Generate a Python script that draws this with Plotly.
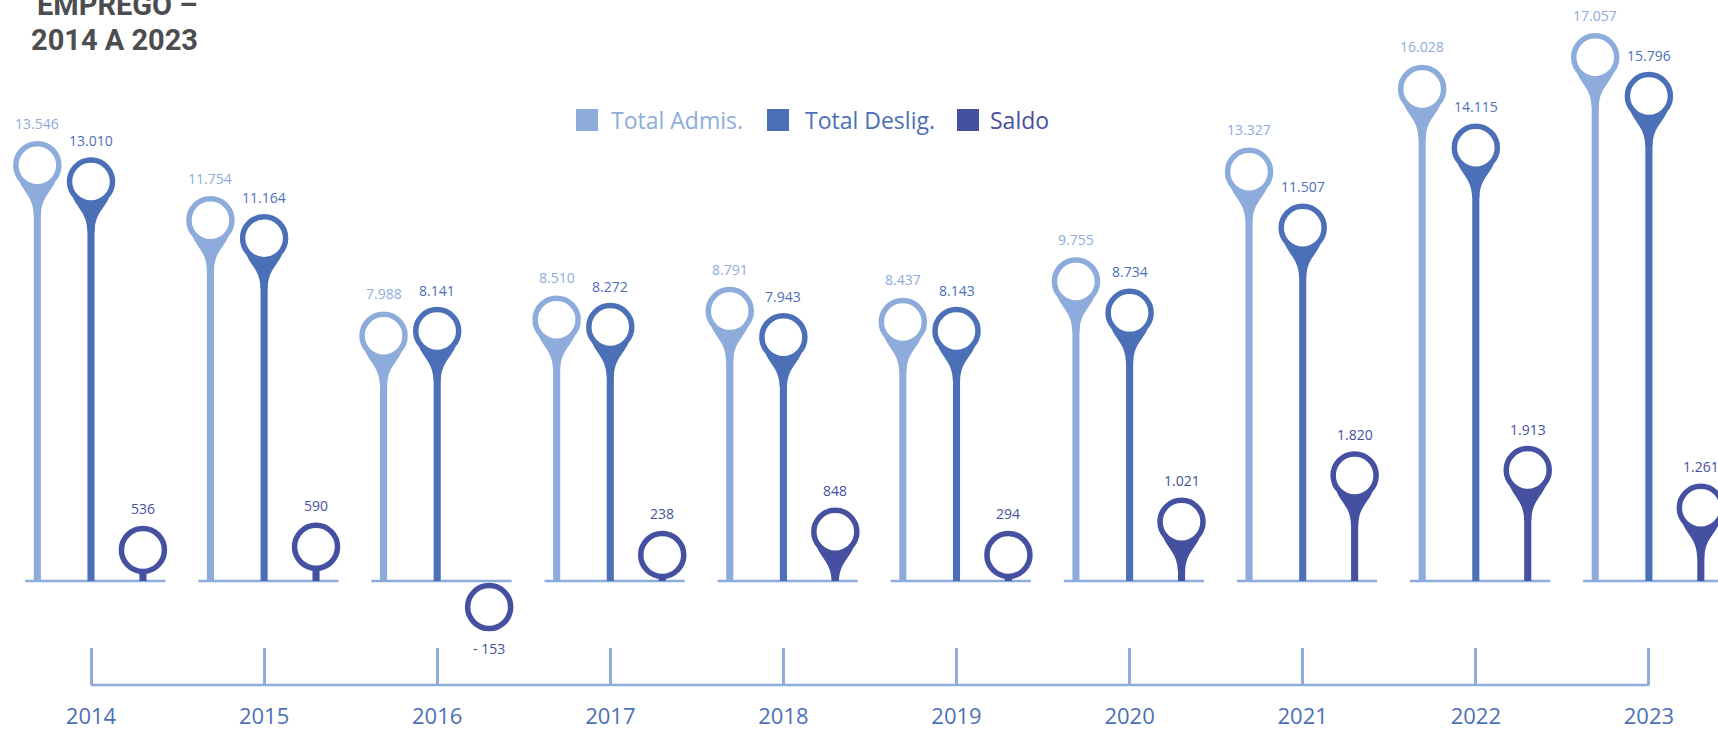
import plotly.graph_objects as go
import numpy as np

# ---------------- data ----------------
years = [2014, 2015, 2016, 2017, 2018, 2019, 2020, 2021, 2022, 2023]
admis = [13546, 11754, 7988, 8510, 8791, 8437, 9755, 13327, 16028, 17057]
deslig = [13010, 11164, 8141, 8272, 7943, 8143, 8734, 11507, 14115, 15796]
saldo = [536, 590, -153, 238, 848, 294, 1021, 1820, 1913, 1261]
series_names = ["Total Admis.", "Total Deslig.", "Saldo"]
title_lines = ["EMPREGO –", "2014 A 2023"]

# ---------------- style ----------------
C_ADM = "#8DACDB"
C_DES = "#4C70B7"
C_SAL = "#4650A0"
C_TITLE = "#4D4D4F"
FONT = "Open Sans"

W, H = 1718, 730
MB = 45                     # bottom margin (bracket line sits at plot bottom)
PH = H - MB                 # plot height in px
BASE_PX = 104               # baseline height above plot bottom
PX_MAIN = 0.0307            # px per unit, main axis
PX_SAL = 0.058              # px per unit, saldo axis
X_PX = 173.1                # px per year
X0_PX = 91                  # px position of first year

def fmt(v):
    s = f"{abs(v):,}".replace(",", ".")
    return ("- " + s) if v < 0 else s

def py(p):                  # page pixel -> paper y
    return (PH - p) / PH

def pxx(p):
    return p / W

yr = np.array(years, dtype=float)
x_adm = yr - 0.31
x_des = yr
x_sal = yr + 0.30

sal = np.array(saldo, dtype=float)
MIN_SAL = 450               # circle sits on baseline for small saldo values
sal_disp = np.where(np.abs(sal) < MIN_SAL, np.sign(sal) * MIN_SAL, sal)

fig = go.Figure()

STEM_W = 0.041
# stems
fig.add_trace(go.Bar(x=x_adm, y=admis, width=STEM_W, marker_color=C_ADM,
                     marker_line_width=0, name=series_names[0], showlegend=False, yaxis="y"))
fig.add_trace(go.Bar(x=x_des, y=deslig, width=STEM_W, marker_color=C_DES,
                     marker_line_width=0, name=series_names[1], showlegend=False, yaxis="y"))
sal_stem = np.where(sal > 0, sal_disp, 0)
fig.add_trace(go.Bar(x=x_sal, y=sal_stem, width=STEM_W, marker_color=C_SAL,
                     marker_line_width=0, name=series_names[2], showlegend=False, yaxis="y2"))

# heads
def head(x, y, color, name, yaxis):
    return go.Scatter(x=x, y=y, mode="markers", name=name, showlegend=False, yaxis=yaxis,
                      cliponaxis=False,
                      marker=dict(size=43, color="white", line=dict(color=color, width=5.5)))

fig.add_trace(head(x_adm, admis, C_ADM, series_names[0], "y"))
fig.add_trace(head(x_des, deslig, C_DES, series_names[1], "y"))
fig.add_trace(head(x_sal, sal_disp, C_SAL, series_names[2], "y2"))

shapes = []
NECK = ("M -18,-16 C -13,-28 -4,-32 -3.6,-50 L 3.6,-50 "
        "C 4,-32 13,-28 18,-16 Z")

def neck(x, y, color, yref):
    return dict(type="path", xref="x", yref=yref, xsizemode="pixel", ysizemode="pixel",
                xanchor=float(x), yanchor=float(y), path=NECK, fillcolor=color,
                line=dict(width=0), layer="below")

annotations = []
LBL = 14
for i in range(len(years)):
    shapes.append(neck(x_adm[i], admis[i], C_ADM, "y"))
    shapes.append(neck(x_des[i], deslig[i], C_DES, "y"))
    if sal[i] >= 800:
        shapes.append(neck(x_sal[i], sal_disp[i], C_SAL, "y2"))
    # value labels
    annotations.append(dict(x=x_adm[i], y=admis[i], xref="x", yref="y", text=fmt(admis[i]),
                            showarrow=False, yshift=42, font=dict(family=FONT, size=LBL, color=C_ADM)))
    annotations.append(dict(x=x_des[i], y=deslig[i], xref="x", yref="y", text=fmt(deslig[i]),
                            showarrow=False, yshift=41, font=dict(family=FONT, size=LBL, color=C_DES)))
    annotations.append(dict(x=x_sal[i], y=sal_disp[i], xref="x", yref="y2", text=fmt(saldo[i]),
                            showarrow=False, yshift=41 if sal[i] >= 0 else -41,
                            font=dict(family=FONT, size=LBL, color=C_SAL)))
    # baseline segment per year
    shapes.append(dict(type="line", xref="x", yref="y", x0=yr[i] - 0.38, x1=yr[i] + 0.43,
                       y0=0, y1=0, line=dict(color=C_ADM, width=2.5), layer="below"))

# bracket line
shapes.append(dict(type="line", xref="x", yref="paper", x0=years[0], x1=years[-1], y0=0, y1=0,
                   line=dict(color=C_ADM, width=2.5)))

# custom legend
leg = [(576, 609, C_ADM, series_names[0]), (767, 803, C_DES, series_names[1]),
       (957, 988, C_SAL, series_names[2])]
for sx, tx, c, name in leg:
    shapes.append(dict(type="rect", xref="paper", yref="paper", x0=pxx(sx), x1=pxx(sx + 22),
                       y0=py(131), y1=py(109), fillcolor=c, line=dict(width=0)))
    annotations.append(dict(xref="paper", yref="paper", x=pxx(tx), y=py(120), xanchor="left",
                            yanchor="middle", text=name, showarrow=False,
                            font=dict(family=FONT, size=23, color=c)))

# title
annotations.append(dict(xref="paper", yref="paper", x=pxx(200), y=py(5), xanchor="right",
                        yanchor="middle", text=f"<b>{title_lines[0]}</b>", showarrow=False,
                        font=dict(family="Roboto", size=29, color=C_TITLE)))
annotations.append(dict(xref="paper", yref="paper", x=pxx(200), y=py(40), xanchor="right",
                        yanchor="middle", text=f"<b>{title_lines[1]}</b>", showarrow=False,
                        font=dict(family="Roboto", size=29, color=C_TITLE)))

xmin = years[0] - X0_PX / X_PX
xmax = xmin + W / X_PX
y_span = PH / PX_MAIN
y_min = -BASE_PX / PX_MAIN
s_span = PH / PX_SAL
s_min = -BASE_PX / PX_SAL

fig.update_layout(
    width=W, height=H,
    margin=dict(l=0, r=0, t=0, b=MB, pad=0),
    paper_bgcolor="white", plot_bgcolor="white",
    barmode="overlay",
    showlegend=False,
    hovermode=False,
    font=dict(family=FONT),
    xaxis=dict(range=[xmin, xmax], tickvals=years, ticktext=[str(y) for y in years],
               ticks="inside", ticklen=37, tickwidth=2.5, tickcolor=C_ADM,
               showgrid=False, zeroline=False, showline=False, automargin=False,
               tickfont=dict(family=FONT, size=22, color=C_DES), ticklabelstandoff=16),
    yaxis=dict(range=[y_min, y_min + y_span], visible=False, showgrid=False, zeroline=False),
    yaxis2=dict(range=[s_min, s_min + s_span], overlaying="y", visible=False,
                showgrid=False, zeroline=False),
    shapes=shapes,
    annotations=annotations,
)

fig.write_html("out.html", config={"displayModeBar": False},
               post_script="document.body.style.margin='0';document.body.style.overflow='hidden';")
